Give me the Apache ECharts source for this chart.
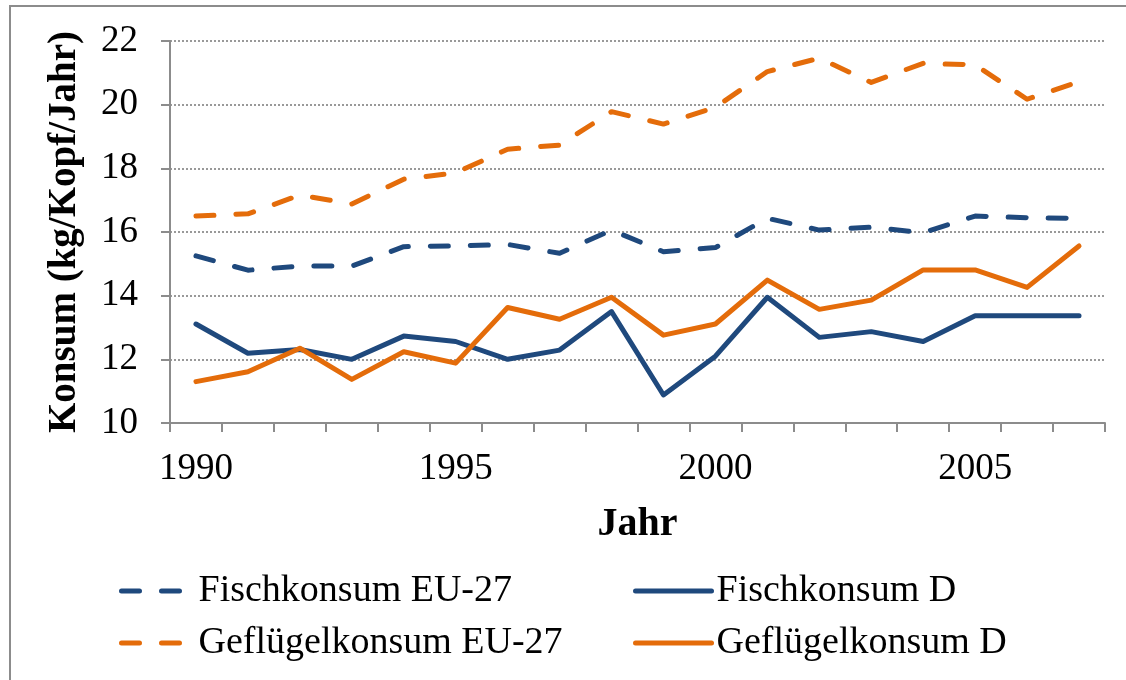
<!DOCTYPE html>
<html>
<head>
<meta charset="utf-8">
<script src="https://cdn.jsdelivr.net/npm/echarts@6/dist/echarts.min.js"></script>
<style>
  html, body { margin: 0; padding: 0; background: #fff; }
  #frame { position: absolute; left: 9px; top: 5px; width: 1200px; height: 700px; border-left: 2px solid #8c8c8c; border-top: 2px solid #8c8c8c; }
  #chart { position: absolute; left: 0; top: 0; width: 1126px; height: 680px; }
</style>
</head>
<body>
<div id="frame"></div>
<div id="chart"></div>
<script>
const years = ['1990', '1991', '1992', '1993', '1994', '1995', '1996', '1997', '1998',
  '1999', '2000', '2001', '2002', '2003', '2004', '2005', '2006', '2007']
const fischEU = [15.25, 14.8, 14.93, 14.93, 15.54, 15.56, 15.61, 15.33, 16.06,
  15.38, 15.51, 16.43, 16.06, 16.15, 15.98, 16.5, 16.45, 16.43]
const fischD = [13.11, 12.19, 12.31, 12.0, 12.73, 12.56, 12.0, 12.29, 13.5,
  10.88, 12.1, 13.95, 12.69, 12.87, 12.56, 13.37, 13.37, 13.37]
const gefluegelEU = [16.5, 16.57, 17.16, 16.88, 17.66, 17.86, 18.6, 18.73, 19.78,
  19.39, 19.92, 21.04, 21.46, 20.7, 21.3, 21.25, 20.17, 20.72]
const gefluegelD = [11.3, 11.61, 12.35, 11.37, 12.24, 11.88, 13.63, 13.26, 13.95,
  12.76, 13.11, 14.49, 13.57, 13.86, 14.81, 14.81, 14.26, 15.56]

const blue = '#1f497d'
const orange = '#e46c0a'
const serif = "'Liberation Serif', 'Times New Roman', serif"
const dash = [18, 22]

const chart = echarts.init(document.getElementById('chart'))

function line(name, data, color, dashed) {
  return {
    name,
    type: 'line',
    data,
    symbol: 'none',
    lineStyle: { color, width: 5, type: dashed ? dash : 'solid', cap: 'round', join: 'round' },
    itemStyle: { color },
  }
}

const legendText = { fontFamily: serif, fontSize: 38, color: '#000' }

chart.setOption({
  animation: false,
  textStyle: { fontFamily: serif },
  grid: { left: 170, right: 21, top: 41, bottom: 257 },
  legend: [
    {
      orient: 'vertical', left: 114, top: 567, itemWidth: 68, itemHeight: 20, itemGap: 14,
      data: ['Fischkonsum EU-27', 'Geflügelkonsum EU-27'],
      textStyle: { ...legendText, padding: [0, 0, 0, 4] },
      itemStyle: { opacity: 0 },
      lineStyle: { width: 5 },
    },
    {
      orient: 'vertical', left: 628, top: 567, itemWidth: 76, itemHeight: 20, itemGap: 14,
      data: ['Fischkonsum D', 'Geflügelkonsum D'],
      textStyle: { ...legendText, padding: [0, 0, 0, 0] },
      itemStyle: { opacity: 0 },
      lineStyle: { width: 5 },
    },
  ],
  xAxis: {
    type: 'category',
    data: years,
    boundaryGap: true,
    name: 'Jahr',
    nameLocation: 'middle',
    nameGap: 82,
    nameTextStyle: { fontFamily: serif, fontSize: 40, fontWeight: 'bold', color: '#000' },
    axisLine: { lineStyle: { color: '#8c8c8c', width: 2 } },
    axisTick: { show: true, interval: 0, alignWithLabel: false, length: 9, lineStyle: { color: '#8c8c8c', width: 2 } },
    axisLabel: { interval: 4, color: '#000', fontSize: 37, fontFamily: serif, margin: 28 },
  },
  yAxis: {
    type: 'value',
    min: 10,
    max: 22,
    interval: 2,
    name: 'Konsum (kg/Kopf/Jahr)',
    nameLocation: 'middle',
    nameGap: 86,
    nameTextStyle: { fontFamily: serif, fontSize: 39, fontWeight: 'bold', color: '#000' },
    axisLine: { show: true, lineStyle: { color: '#8c8c8c', width: 2 } },
    axisTick: { show: true, length: 9, lineStyle: { color: '#8c8c8c', width: 2 } },
    axisLabel: { color: '#000', fontSize: 37, fontFamily: serif, margin: 32 },
    splitLine: { lineStyle: { color: '#999', width: 2, type: [2, 2] } },
  },
  series: [
    line('Fischkonsum EU-27', fischEU, blue, true),
    line('Fischkonsum D', fischD, blue, false),
    line('Geflügelkonsum EU-27', gefluegelEU, orange, true),
    line('Geflügelkonsum D', gefluegelD, orange, false),
  ],
})
</script>
</body>
</html>
